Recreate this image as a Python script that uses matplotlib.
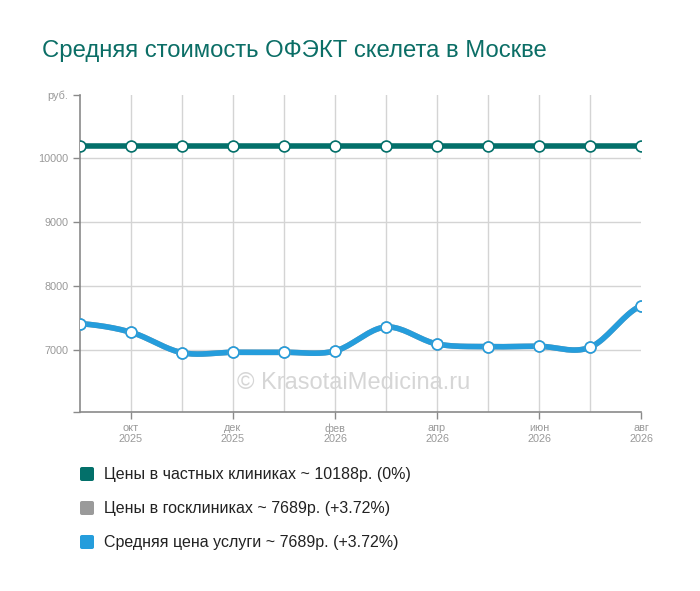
import numpy as np
import matplotlib
matplotlib.use("Agg")
import matplotlib.pyplot as plt
from matplotlib.patches import FancyBboxPatch

plt.rcParams["font.family"] = ["Liberation Sans", "DejaVu Sans"]

# data (Sep 2025 .. Aug 2026)
months = ["сен\n2025", "окт\n2025", "ноя\n2025", "дек\n2025", "янв\n2026", "фев\n2026",
          "мар\n2026", "апр\n2026", "май\n2026", "июн\n2026", "июл\n2026", "авг\n2026"]
private = [10188] * 12
public = [7413, 7277, 6958, 6964, 6964, 6984, 7359, 7094, 7052, 7058, 7042, 7689]
average = [7413, 7277, 6958, 6964, 6964, 6984, 7359, 7094, 7052, 7058, 7042, 7689]
legend_labels = ["Цены в частных клиниках ~ 10188р. (0%)",
                 "Цены в госклиниках ~ 7689р. (+3.72%)",
                 "Средняя цена услуги ~ 7689р. (+3.72%)"]

GREEN = "#03706a"
GRAY = "#9a9a9a"
BLUE = "#259ddc"


def smooth(y, n=20):
    # Catmull-Rom spline through the points, only for drawing the curve
    y = np.asarray(y, float)
    x = np.arange(len(y), dtype=float)
    p = np.concatenate([[y[0]], y, [y[-1]]])
    xs, ys = [], []
    for i in range(len(y) - 1):
        p0, p1, p2, p3 = p[i], p[i + 1], p[i + 2], p[i + 3]
        t = np.linspace(0, 1, n, endpoint=False)
        yy = 0.5 * (2 * p1 + (-p0 + p2) * t + (2 * p0 - 5 * p1 + 4 * p2 - p3) * t ** 2
                    + (-p0 + 3 * p1 - 3 * p2 + p3) * t ** 3)
        xs.append(x[i] + t); ys.append(yy)
    xs.append([x[-1]]); ys.append([y[-1]])
    return np.concatenate(xs), np.concatenate(ys)


fig = plt.figure(figsize=(7, 5.91), dpi=100)
ax = fig.add_axes([80 / 700, 1 - 412 / 591, 561 / 700, 317 / 591])

x = np.arange(len(months))
ymin, ymax = 6031, 10984
ax.set_xlim(0, len(months) - 1)
ax.set_ylim(ymin, ymax)

for i, (vals, col) in enumerate([(private, GREEN), (public, GRAY), (average, BLUE)]):
    sx, sy = smooth(vals)
    ax.plot(sx, sy, color=col, lw=4, solid_capstyle="round", zorder=3 + i)
    ax.plot(x, vals, ls="none", marker="o", ms=7.8, mfc="white", mec=col, mew=1.2, zorder=6 + i)

ax.set_yticks([ymin, 7000, 8000, 9000, 10000, ymax])
ax.set_yticklabels(["", "7000", "8000", "9000", "10000", "руб."])
ax.set_xticks(x)
ax.set_xticklabels([m if i % 2 == 1 else "" for i, m in enumerate(months)])
ax.tick_params(axis="both", colors="#8a8a8a", labelcolor="#999999", labelsize=7.8, length=5, width=1)
ax.tick_params(axis="x", pad=3)
for lbl in ax.get_xticklabels():
    lbl.set_linespacing(1.05)

ax.grid(True, color="#d4d4d4", lw=1)
ax.set_axisbelow(True)
xt = ax.xaxis.get_major_ticks()
for i, t in enumerate(xt):
    if i % 2 == 0 and i != len(months) - 1:
        t.tick1line.set_visible(False)
xt[0].gridline.set_visible(False)
xt[-1].gridline.set_visible(False)
yt = ax.yaxis.get_major_ticks()
yt[0].gridline.set_visible(False)
yt[-1].gridline.set_visible(False)

for s in ["top", "right"]:
    ax.spines[s].set_visible(False)
for s in ["left", "bottom"]:
    ax.spines[s].set_color("#8a8a8a")
    ax.spines[s].set_linewidth(1.2)

ax.text(0.488, 0.09, "© KrasotaiMedicina.ru", transform=ax.transAxes, ha="center", va="center",
        fontsize=17, color="#d6d6d6", zorder=2)

fig.text(42 / 700, 1 - 51 / 591, "Средняя стоимость ОФЭКТ скелета в Москве",
         fontsize=17.2, color="#0b6e66", va="center", ha="left")

for i, (lab, col) in enumerate(zip(legend_labels, [GREEN, GRAY, BLUE])):
    yc = 474 + 34 * i
    fig.patches.append(FancyBboxPatch((80 / 700, 1 - (yc + 7) / 591), 14 / 700, 14 / 591,
                                      boxstyle="round,pad=0,rounding_size=0.003",
                                      transform=fig.transFigure, fc=col, ec="none"))
    fig.text(104 / 700, 1 - yc / 591, lab, fontsize=11.5, color="#222222", va="center", ha="left")

fig.savefig("out.png", dpi=100, facecolor="white")
